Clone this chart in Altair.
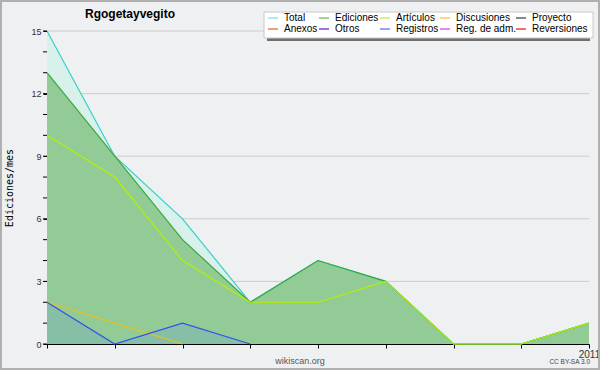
import altair as alt
import pandas as pd

# ---- data ----
months = list(range(9))          # 9 monthly points, last one is January 2011
total = [15, 9, 6, 2, 4, 3, 0, 0, 1]
ediciones = [13, 9, 5, 2, 4, 3, 0, 0, 1]
articulos = [10, 8, 4, 2, 2, 3, 0, 0, 1]
discusiones = [2, 1, 0]
registros = [2, 0, 1, 0]
major_ticks = [0, 3, 6, 9, 12, 15]
minor_ticks = list(range(16))
grid_values = [3, 6, 9, 12, 15]

legend_names = ["Total", "Ediciones", "Artículos", "Discusiones", "Proyecto",
                "Anexos", "Otros", "Registros", "Reg. de adm.", "Reversiones"]
legend_colors = ["#99e6df", "#7fc87f", "#c8f064", "#f8d060", "#606060",
                 "#f08040", "#8040e0", "#8080f0", "#e060e0", "#f04040"]

# legend layout (style, in pixels relative to the plot area)
LEG_COLS = [221, 272, 333, 393, 469]
LEG_ROWS = [-13, -2]

FONT = "Liberation Sans"
W, H = 542, 313


def frame(xs, ys):
    return pd.DataFrame({"x": xs[:len(ys)], "y": ys})


xscale = alt.Scale(domain=[0, 8], nice=False, zero=False)
yscale = alt.Scale(domain=[0, 15], nice=False)

X = alt.X("x:Q", scale=xscale,
          axis=alt.Axis(values=months, labelExpr="datum.value == 8 ? '2011' : ''",
                        title=None, grid=False, domainColor="#000", tickColor="#000",
                        tickSize=4, labelFont=FONT, labelFontSize=10, labelColor="#333",
                        labelPadding=1, labelFlush=False, labelOverlap=False))
Y = alt.Y("y:Q", scale=yscale,
          axis=alt.Axis(values=major_ticks,
                        title="Ediciones/mes", titleFont="DejaVu Sans Mono",
                        titleFontSize=10, titleFontWeight="normal", titleColor="#000",
                        titlePadding=16, grid=False, domainColor="#000", tickColor="#000",
                        tickSize=4, labelFont=FONT, labelFontSize=9, labelColor="#333",
                        labelPadding=2, labelOverlap=False))

grid = alt.Chart(pd.DataFrame({"y": grid_values})).mark_rule(
    color="#cccccc", strokeWidth=1).encode(y=alt.Y("y:Q", scale=yscale))

minor = alt.Chart(pd.DataFrame({"y": minor_ticks})).mark_rule(
    color="#000", strokeWidth=1).encode(
    y=alt.Y("y:Q", scale=yscale), x=alt.value(-4), x2=alt.value(0))

total_area = alt.Chart(frame(months, total)).mark_area(
    color="#d8f1eb", opacity=1).encode(x=X, y=Y)
edic_area = alt.Chart(frame(months, ediciones)).mark_area(
    color="#93cb97", opacity=1).encode(x=X, y=Y)
reg_area = alt.Chart(frame(months, registros)).mark_area(
    color="#86bfa6", opacity=1).encode(x=X, y=Y)


def line(vals, color):
    return alt.Chart(frame(months, vals)).mark_line(
        color=color, strokeWidth=1.2).encode(x=X, y=Y)


total_line = line(total, "#35d0c8")
edic_line = line(ediciones, "#3aa83a")
art_line = line(articulos, "#b4f000")
disc_line = line(discusiones, "#e8c020")
reg_line = line(registros, "#3050f0")

title = alt.Chart(pd.DataFrame({"t": ["Rgogetayvegito"]})).mark_text(
    font=FONT, fontSize=12, fontWeight="bold", color="#000", align="left",
    baseline="alphabetic").encode(text="t:N", x=alt.value(38), y=alt.value(-13))

notes = alt.Chart(pd.DataFrame({"t": ["wikiscan.org"]})).mark_text(
    font=FONT, fontSize=9, color="#555", baseline="alphabetic").encode(
    text="t:N", x=alt.value(253), y=alt.value(333))
cc = alt.Chart(pd.DataFrame({"t": ["CC BY-SA 3.0"]})).mark_text(
    font=FONT, fontSize=6.5, color="#444", align="right", baseline="alphabetic").encode(
    text="t:N", x=alt.value(543), y=alt.value(333))

border = alt.Chart(pd.DataFrame({"k": [0]})).mark_rect(
    fill=None, stroke="#b0b0b0", strokeWidth=2).encode(
    x=alt.value(-46), x2=alt.value(552), y=alt.value(-30), y2=alt.value(338))

main = alt.layer(
    grid, total_area, edic_area, reg_area,
    total_line, edic_line, art_line, disc_line, reg_line, minor,
    title, notes, cc, border
)

# ---- legend drawn as its own layer with pixel-identity scales ----
leg = pd.DataFrame({
    "name": legend_names,
    "color": legend_colors,
    "lx": [LEG_COLS[i % 5] for i in range(10)],
    "ly": [LEG_ROWS[i // 5] for i in range(10)],
})
leg["lx2"] = leg["lx"] + 10
leg["tx"] = leg["lx"] + 16

px = alt.Scale(domain=[0, W], range=[0, W], nice=False, zero=False)
py = alt.Scale(domain=[0, H], range=[0, H], nice=False, zero=False)

shadow = alt.Chart(pd.DataFrame({"k": [0]})).mark_rect(color="#707070").encode(
    x=alt.value(220), x2=alt.value(543), y=alt.value(-16), y2=alt.value(10))
box = alt.Chart(pd.DataFrame({"k": [0]})).mark_rect(
    fill="#ffffff", stroke="#c8c8c8", strokeWidth=1).encode(
    x=alt.value(217), x2=alt.value(546), y=alt.value(-19), y2=alt.value(7))
swatches = alt.Chart(leg).mark_rule(strokeWidth=1.5).encode(
    x=alt.X("lx:Q", scale=px, axis=None), x2="lx2:Q",
    y=alt.Y("ly:Q", scale=py, axis=None),
    color=alt.Color("color:N", scale=None, legend=None))
labels = alt.Chart(leg).mark_text(
    font=FONT, fontSize=10, color="#000", align="left", baseline="middle").encode(
    x=alt.X("tx:Q", scale=px, axis=None),
    y=alt.Y("ly:Q", scale=py, axis=None),
    text="name:N")

legend = alt.layer(shadow, box, swatches, labels)

chart = alt.layer(main, legend).resolve_scale(
    x="independent", y="independent", color="independent"
).properties(
    width=W, height=H,
    autosize=alt.AutoSizeParams(type="none"),
    padding={"left": 47, "top": 31, "right": 11, "bottom": 26},
    background="#eff0f2",
).configure_view(fill="#eff0f2", stroke=None)

chart.save("out.html", embed_options={"renderer": "svg", "actions": False})
